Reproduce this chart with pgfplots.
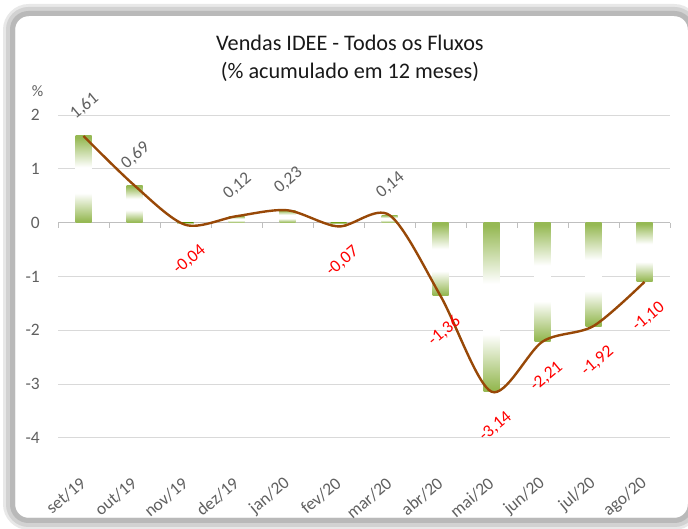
\documentclass[border=0pt]{standalone}
\usepackage{pgfplots}
\pgfplotsset{compat=1.18}
\usepackage{pgfplotstable}
\usepackage{fontspec}
\setmainfont{Carlito}
\definecolor{barg}{RGB}{150,185,84}
\definecolor{linebrown}{RGB}{152,72,7}
\definecolor{tickgray}{RGB}{96,96,96}
\definecolor{gridgray}{RGB}{217,217,217}
\definecolor{axisgray}{RGB}{191,191,191}
\pgfdeclareverticalshading{barshade}{100bp}{color(0bp)=(barg); color(26bp)=(barg); color(42bp)=(white); color(57bp)=(white); color(74bp)=(barg); color(100bp)=(barg)}

\pgfplotstableread{
x y
0 1.61
1 0.69
2 -0.04
3 0.12
4 0.23
5 -0.07
6 0.14
7 -1.36
8 -3.14
9 -2.21
10 -1.92
11 -1.10
}\vendas

\pgfplotstableread{
x y lbl
0 1.61 1,61
1 0.69 0,69
3 0.12 0,12
4 0.23 0,23
6 0.14 0,14
}\poslbl

\pgfplotstableread{
x y lbl
2 -0.04 -0,04
5 -0.07 -0,07
7 -1.36 -1,36
8 -3.14 -3,14
9 -2.21 -2,21
10 -1.92 -1,92
11 -1.10 -1,10
}\neglbl

\begin{document}
\begin{tikzpicture}
\path[use as bounding box] (0bp,0bp) rectangle (688bp,529bp);
\fill[white] (0bp,0bp) rectangle (688bp,529bp);
% chart frame
\draw[gray!18, line width=12bp, rounded corners=20bp] (9bp,5bp) rectangle (694bp,519bp);
\draw[gray!35, line width=9bp, rounded corners=18bp] (10.5bp,6.5bp) rectangle (692.5bp,517.5bp);
\draw[gray!55, line width=5bp, rounded corners=16bp] (12.5bp,8.5bp) rectangle (690.5bp,515.5bp);
% title
\node[align=center, font=\fontsize{22.3}{28}\selectfont, text=black!90] at (350bp,471bp)
  {Vendas IDEE - Todos os Fluxos\\(\% acumulado em 12 meses)};
\begin{axis}[
  at={(58bp,91bp)}, anchor=south west,
  scale only axis, width=612bp, height=323bp,
  xmin=-0.5, xmax=11.5, ymin=-4, ymax=2,
  ytick={-4,-3,-2,-1,0,1,2},
  xtick={0,...,11},
  xticklabels={set/19,out/19,nov/19,dez/19,jan/20,fev/20,mar/20,abr/20,mai/20,jun/20,jul/20,ago/20},
  axis line style={draw=none},
  major tick length=0pt,
  ymajorgrids, grid style={gridgray, line width=1bp},
  tick label style={font=\fontsize{17.5}{20}\selectfont, text=tickgray},
  /pgf/number format/assume math mode=true,
  yticklabel style={anchor=east, inner sep=0pt, xshift=-18bp},
  xticklabel style={rotate=40, anchor=east, inner sep=0pt},
  xticklabel shift=43bp,
  ylabel={\%},
  every axis y label/.style={at={(axis description cs:0,1)}, anchor=center, xshift=-20.5bp, yshift=24bp, font=\fontsize{16}{18}\selectfont, text=tickgray},
  clip=false,
]
\draw[axisgray, line width=1bp] (axis cs:-0.5,0) -- (axis cs:11.5,0);
\pgfplotsinvokeforeach{0,...,12}{\draw[axisgray, line width=1bp] (axis cs:#1-0.5,0) -- (axis cs:#1-0.5,-0.09);}
\pgfplotsinvokeforeach{0,...,11}{
\addplot[ybar, bar width=16bp, bar shift=0pt, draw=none, shade, shading=barshade, forget plot,
  restrict x to domain=#1:#1] table[x=x,y=y] {\vendas};
}
\addplot[smooth, tension=0.5, linebrown, line width=2.4bp, mark=none] table[x=x,y=y] {\vendas};
\addplot[draw=none, mark=none, nodes near coords, point meta=explicit symbolic,
  nodes near coords style={anchor=center, xshift=1bp, yshift=30bp, rotate=40, text=tickgray, font=\fontsize{17.5}{20}\selectfont}]
  table[x=x,y=y,meta=lbl] {\poslbl};
\addplot[draw=none, mark=none, nodes near coords, point meta=explicit symbolic,
  nodes near coords style={anchor=center, xshift=4bp, yshift=-35bp, rotate=40, text=red, font=\fontsize{17.5}{20}\selectfont}]
  table[x=x,y=y,meta=lbl] {\neglbl};
\end{axis}
\end{tikzpicture}
\end{document}
